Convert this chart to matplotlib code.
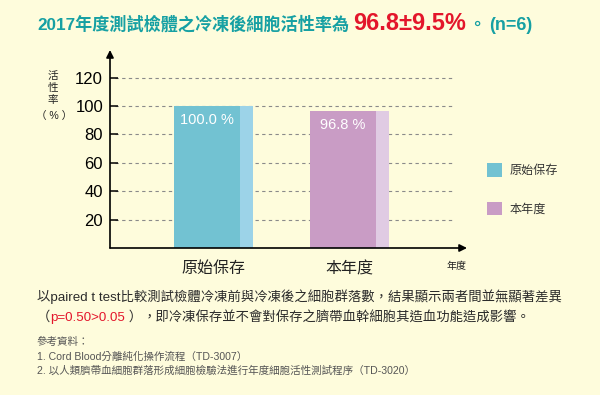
import matplotlib
matplotlib.use("Agg")
import matplotlib.pyplot as plt
from matplotlib.patches import Patch

# data
categories = ["原始保存", "本年度"]
values = [100.0, 96.8]
value_labels = ["100.0 %", "96.8 %"]
yticks = [20, 40, 60, 80, 100, 120]

dark_colors = ["#72C2D2", "#C99CC5"]
light_colors = ["#9CD3E8", "#E0CBE3"]

BG = "#FEFCDC"
TEAL = "#16A0A3"
RED = "#E3162B"
TXT = "#2b2b2b"
GRAY = "#555555"

CJK = ["Liberation Sans", "Noto Sans CJK TC", "DejaVu Sans"]

plt.rcParams["font.family"] = CJK

W, H = 600, 395
fig = plt.figure(figsize=(W / 100, H / 100), dpi=100, facecolor=BG)


def px(x, y):
    """pixel (from top-left) -> figure fraction"""
    return x / W, 1 - y / H


# axes: y axis at x=110, arrow tip at y=50, zero at y=248, x arrow tip at 467
ax = fig.add_axes([110 / W, 1 - 248 / H, (467 - 110) / W, (248 - 50) / H])
ax.set_facecolor("none")
ax.set_ylim(0, 198 / 1.42)
ax.set_xlim((110 - 213.5) / 136, (467 - 213.5) / 136)
for s in ax.spines.values():
    s.set_visible(False)

# dashed grid, drawn behind bars
ax.hlines(yticks, (115 - 213.5) / 136, (455 - 213.5) / 136,
          colors="#8a8a8a", linestyles=(0, (3, 3)), lw=0.8, zorder=1)

dark_w, light_w = 66 / 136, 13 / 136
lefts = [i - (dark_w + light_w) / 2 for i in range(len(values))]
ax.bar(lefts, values, width=dark_w, align="edge", color=dark_colors, zorder=2)
ax.bar([l + dark_w for l in lefts], values, width=light_w, align="edge",
       color=light_colors, zorder=2)
for l, v, lab in zip(lefts, values, value_labels):
    ax.text(l + dark_w / 2, v - 10, lab, ha="center", va="center",
            color="white", fontsize=10.5, family="Liberation Sans", zorder=3)

# axes with arrows
arrow = dict(arrowstyle="-|>", color="black", lw=1.2, mutation_scale=11,
             shrinkA=0, shrinkB=0)
ax.annotate("", xy=(0, 1), xytext=(0, 0), xycoords="axes fraction",
            arrowprops=arrow, annotation_clip=False)
ax.annotate("", xy=(1, 0), xytext=(0, 0), xycoords="axes fraction",
            arrowprops=arrow, annotation_clip=False)

ax.set_yticks(yticks)
ax.set_yticklabels([str(t) for t in yticks], fontsize=12, family="Liberation Sans")
ax.tick_params(axis="y", direction="in", length=6, width=1.1, pad=5, colors="black")
ax.set_xticks(range(len(categories)))
ax.set_xticklabels(categories, fontsize=11.5, color="#222222")
ax.tick_params(axis="x", length=0, pad=9.5)

fig.text(*px(457, 266), "年度", fontsize=7.2, ha="center", va="center", color="#222222")

# y label
fig.text(*px(53, 88), "活\n性\n率", fontsize=7.6, ha="center", va="center",
         linespacing=1.2, color="#222222")
fig.text(*px(54, 116), "（ % ）", fontsize=7.6, ha="center", va="center", color="#222222")

# legend
handles = [Patch(facecolor=c, edgecolor="none") for c in dark_colors]
ax.legend(handles, categories, loc="upper left", bbox_to_anchor=px(487, 163),
          bbox_transform=fig.transFigure, frameon=False, fontsize=8.7,
          handlelength=1.25, handleheight=1.35, labelspacing=2.05,
          handletextpad=0.6, borderpad=0, borderaxespad=0, labelcolor="#333333")

# helper: lay text pieces side by side on one baseline
renderer = fig.canvas.get_renderer()


def text_row(x0, y, pieces, gaps=None):
    x = x0
    for i, (s, kw) in enumerate(pieces):
        if gaps:
            x += gaps[i]
        t = fig.text(*px(x, y), s, ha="left", va="baseline", **kw)
        bb = t.get_window_extent(renderer=renderer)
        x += bb.width


text_row(37, 30, [
    ("2017年度測試檢體之冷凍後細胞活性率為", dict(fontsize=12.3, weight="bold", color=TEAL)),
    ("96.8±9.5%", dict(fontsize=17, weight="bold", color=RED)),
    ("。", dict(fontsize=12.3, weight="bold", color=TEAL)),
    ("(n=6)", dict(fontsize=13, weight="bold", color=TEAL)),
], gaps=[0, 4, 2, 4])

body = dict(fontsize=9.6, color=TXT)
text_row(37, 301, [
    ("以paired t test比較測試檢體冷凍前與冷凍後之細胞群落數，結果顯示兩者間並無顯著差異", body),
])
text_row(37, 321, [
    ("（", body),
    ("p=0.50>0.05", dict(fontsize=9.6, color=RED)),
    (" ）", body),
    ("，即冷凍保存並不會對保存之臍帶血幹細胞其造血功能造成影響。", body),
])

ref = dict(fontsize=7.6, color=GRAY)
text_row(37, 345, [("參考資料：", ref)])
text_row(37, 360, [("1. Cord Blood分離純化操作流程（TD-3007）", ref)])
text_row(37, 374, [("2. 以人類臍帶血細胞群落形成細胞檢驗法進行年度細胞活性測試程序（TD-3020）", ref)])

fig.savefig("out.png", dpi=100, facecolor=BG)
